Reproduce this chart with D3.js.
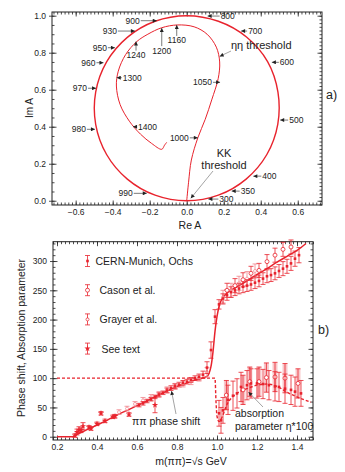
<!DOCTYPE html>
<html>
<head>
<meta charset="utf-8">
<script src="https://cdn.jsdelivr.net/npm/d3@7"></script>
<style>
body { margin: 0; background: #fff; }
text { font-family: "Liberation Sans", Arial, sans-serif; fill: #222; }
</style>
</head>
<body>
<div id="chart"></div>
<script>
// ---------- a) Argand diagram data ----------
var outerRe = [0, 0.171, 0.321, 0.433, 0.492, 0.493, 0.437, 0.323, 0.171, 0, -0.171, -0.321, -0.433, -0.492, -0.492, -0.433, -0.321, -0.171, 0];
var outerIm = [0, 0.030, 0.117, 0.25, 0.413, 0.587, 0.752, 0.885, 0.970, 1.0, 0.970, 0.883, 0.75, 0.587, 0.413, 0.25, 0.117, 0.030, 0];
var innerRe = [0, 0.01, 0.025, 0.06, 0.10, 0.135, 0.17, 0.178, 0.16, 0.11, 0.04, -0.05, -0.135, -0.21, -0.27, -0.33, -0.37, -0.38, -0.36, -0.31, -0.25, -0.19, -0.135, -0.12, -0.108];
var innerIm = [0, 0.10, 0.22, 0.34, 0.44, 0.545, 0.66, 0.75, 0.83, 0.90, 0.94, 0.95, 0.935, 0.90, 0.86, 0.79, 0.70, 0.62, 0.52, 0.43, 0.36, 0.31, 0.278, 0.30, 0.316];

var outerEnergy = [300, 350, 400, 500, 600, 700, 800, 900, 930, 950, 960, 970, 980, 990];
var outerTipRe = [0.117, 0.243, 0.36, 0.505, 0.46, 0.294, 0.113, -0.162, -0.28, -0.388, -0.45, -0.49, -0.496, -0.216];
var outerTipIm = [0.009, 0.052, 0.133, 0.436, 0.748, 0.917, 0.998, 0.973, 0.917, 0.827, 0.746, 0.608, 0.386, 0.04];
var innerEnergy = [1000, 1050, 1160, 1200, 1240, 1300, 1400];
var innerTipRe = [0.06, 0.18, -0.054, -0.135, -0.274, -0.378, -0.29];
var innerTipIm = [0.34, 0.64, 0.95, 0.933, 0.86, 0.665, 0.40];

var reTicks = [-0.6, -0.4, -0.2, 0.0, 0.2, 0.4, 0.6];
var imTicks = [0.0, 0.2, 0.4, 0.6, 0.8, 1.0];

// ---------- b) phase shift / absorption data ----------
var phaseMass = [0.20, 0.28, 0.30, 0.35, 0.40, 0.45, 0.50, 0.55, 0.60, 0.65, 0.70, 0.75, 0.80, 0.85, 0.90, 0.95, 0.96, 0.97, 0.98, 0.99, 1.00, 1.01, 1.02, 1.04, 1.07, 1.10, 1.15, 1.20, 1.25, 1.30, 1.35, 1.40, 1.445];
var phaseFit = [0, 0, 4, 12, 20, 28, 37, 45, 53, 61, 70, 78, 86, 92, 98, 103, 108, 120, 145, 180, 205, 222, 232, 242, 250, 256, 266, 277, 287, 298, 308, 318, 330];
var etaMass = [0.20, 0.99, 0.995, 1.00, 1.01, 1.02, 1.05, 1.10, 1.15, 1.20, 1.25, 1.30, 1.35, 1.40, 1.47];
var etaFit = [100, 100, 60, 35, 26, 30, 55, 74, 82, 88, 90, 86, 76, 68, 59];

var cmMass = [0.61, 0.63, 0.65, 0.67, 0.69, 0.71, 0.73, 0.75, 0.77, 0.79, 0.81, 0.83, 0.85, 0.87, 0.89, 0.91, 0.93, 0.95, 0.97, 0.99, 1.01, 1.03, 1.05, 1.07, 1.09, 1.11, 1.13, 1.15, 1.17, 1.19, 1.21, 1.23, 1.25, 1.27, 1.29, 1.31, 1.33, 1.35, 1.37, 1.39, 1.41];
var cmPhase = [54, 57, 61, 64, 68, 72, 75, 79, 83, 86, 89, 92, 94, 97, 100, 102, 106, 118, 148, 205, 226, 236, 242, 247, 250, 253, 256, 258, 260, 263, 266, 270, 274, 276, 279, 283, 287, 291, 296, 304, 310];
var cmErr = [3, 3, 3, 3, 3, 3, 3, 4, 4, 4, 4, 4, 4, 4, 4, 5, 6, 10, 14, 12, 8, 8, 9, 9, 9, 9, 10, 10, 10, 10, 10, 10, 11, 11, 11, 11, 12, 12, 12, 13, 13];

var casonMass = [1.05, 1.09, 1.13, 1.17, 1.21, 1.25, 1.29, 1.33, 1.37];
var casonPhase = [250, 258, 268, 279, 284, 299, 310, 320, 324];
var casonErr = [12, 12, 12, 12, 12, 12, 12, 12, 12];

var grayerMass = [0.51, 0.55, 0.59, 0.63, 0.67, 0.71, 0.75, 0.79, 0.83, 0.87, 0.91, 0.95, 1.03, 1.07, 1.11, 1.15, 1.19];
var grayerPhase = [42, 48, 56, 62, 67, 72, 80, 86, 90, 94, 100, 110, 238, 250, 262, 270, 283];
var grayerErr = [4, 4, 4, 5, 5, 5, 5, 5, 5, 5, 5, 8, 12, 12, 12, 12, 12];

var seeMass = [0.29, 0.30, 0.31, 0.32, 0.33, 0.36, 0.37, 0.40, 0.42, 0.44, 0.48, 0.49, 0.56, 0.69];
var seePhase = [2, 8, 12, 11, 18, 16, 14, 22, 40, 27, 34, 35, 38, 54];
var seeErr = [3, 5, 5, 4, 6, 3, 3, 3, 3, 3, 3, 3, 3, 13];

var absCmMass = [1.01, 1.02, 1.03, 1.055, 1.08, 1.10, 1.12, 1.15, 1.17, 1.20, 1.23, 1.26, 1.29, 1.31, 1.34, 1.37, 1.39, 1.42];
var absCmEta = [40, 28, 45, 63, 70, 74, 85, 88, 91, 91, 90, 88, 86, 85, 82, 80, 77, 74];
var absCmErr = [22, 22, 22, 25, 25, 25, 25, 25, 25, 25, 25, 25, 25, 25, 25, 25, 25, 22];
var absCasonMass = [1.047, 1.13, 1.164, 1.21, 1.247, 1.29, 1.34, 1.405];
var absCasonEta = [71, 80, 94, 94, 101, 102, 100, 91];
var absCasonErr = [25, 25, 25, 25, 25, 25, 25, 25];

var massTicks = [0.2, 0.4, 0.6, 0.8, 1.0, 1.2, 1.4];
var degTicks = [0, 50, 100, 150, 200, 250, 300];
var legendNames = ["CERN-Munich, Ochs", "Cason et al.", "Grayer et al.", "See text"];

var red = "#e8232d", pink = "#f0848c", ink = "#222";

var svg = d3.select("#chart")
    .append("svg")
    .attr("width", 345)
    .attr("height", 472);

svg.append("defs").append("marker")
    .attr("id", "arr")
    .attr("viewBox", "0 0 10 10")
    .attr("refX", 10).attr("refY", 5)
    .attr("markerWidth", 5).attr("markerHeight", 4)
    .attr("markerUnits", "userSpaceOnUse")
    .attr("orient", "auto")
    .append("path")
    .attr("d", "M0,0L10,5L0,10z")
    .attr("fill", ink);

// frame with inward ticks on four sides
function drawFrame(x, y, o) {
    var xl = x.range()[0], xr = x.range()[1], yb = y.range()[0], yt = y.range()[1];
    var g = svg.append("g");
    function style(sel) {
        sel.select(".domain").remove();
        sel.selectAll(".tick line").attr("stroke", ink).attr("stroke-width", 0.8);
        sel.selectAll("text").attr("font-size", "8.5px").attr("fill", ink);
    }
    g.append("g").attr("transform", `translate(0,${yb})`)
        .call(d3.axisBottom(x).tickValues(o.xMinor).tickFormat("").tickSize(-2.5)).call(style);
    g.append("g").attr("transform", `translate(0,${yb})`)
        .call(d3.axisBottom(x).tickValues(o.xMajor).tickFormat(o.xFmt).tickSize(-4.5).tickPadding(4)).call(style);
    g.append("g").attr("transform", `translate(0,${yt})`)
        .call(d3.axisTop(x).tickValues(o.xMinor).tickFormat("").tickSize(-2.5)).call(style);
    g.append("g").attr("transform", `translate(0,${yt})`)
        .call(d3.axisTop(x).tickValues(o.xMajor).tickFormat("").tickSize(-4.5)).call(style);
    g.append("g").attr("transform", `translate(${xl},0)`)
        .call(d3.axisLeft(y).tickValues(o.yMinor).tickFormat("").tickSize(-2.5)).call(style);
    var left = g.append("g").attr("transform", `translate(${xl},0)`)
        .call(d3.axisLeft(y).tickValues(o.yMajor).tickFormat(o.yFmt).tickSize(-4.5).tickPadding(6)).call(style);
    left.selectAll(".tick line").attr("x1", -3);
    g.append("g").attr("transform", `translate(${xr},0)`)
        .call(d3.axisRight(y).tickValues(o.yMinorR).tickFormat("").tickSize(-2.5)).call(style);
    g.append("g").attr("transform", `translate(${xr},0)`)
        .call(d3.axisRight(y).tickValues(o.yMajor).tickFormat("").tickSize(-4.5)).call(style);
    g.append("rect")
        .attr("x", xl).attr("y", yt)
        .attr("width", xr - xl).attr("height", yb - yt)
        .attr("fill", "none").attr("stroke", ink).attr("stroke-width", 1);
}

// ---------- panel a ----------
var xa = d3.scaleLinear().domain([-0.728, 0.731]).range([52, 322]);
var ya = d3.scaleLinear().domain([-0.023, 1.02]).range([205, 12]);

drawFrame(xa, ya, {
    xMajor: reTicks, xMinor: d3.range(-0.72, 0.73, 0.02),
    yMajor: imTicks, yMinor: d3.range(0, 1.01, 0.05), yMinorR: d3.range(-0.02, 1.01, 0.02),
    xFmt: d3.format(".1f"), yFmt: d3.format(".1f")
});

var lineA = d3.line().x(d => xa(d[0])).y(d => ya(d[1]));
svg.append("path")
    .datum(d3.zip(outerRe, outerIm).slice(0, -1))
    .attr("d", lineA.curve(d3.curveCatmullRomClosed))
    .attr("fill", "none").attr("stroke", red).attr("stroke-width", 1.4);
svg.append("path")
    .datum(d3.zip(innerRe, innerIm))
    .attr("d", lineA.curve(d3.curveCatmullRom))
    .attr("fill", "none").attr("stroke", red).attr("stroke-width", 1);

// energy labels: [dx, dy] from tip to arrow tail, text anchor
var outerLayout = [[10, 0, "start"], [8, 0, "start"], [8, 0, "start"], [8, 0, "start"], [7, 0, "start"], [6, 0, "start"], [12, 0, "start"],
    [-16, 0, "end"], [-17, 0, "end"], [-7, 0, "end"], [-7, 0, "end"], [-8, 0, "end"], [-8, 0, "end"], [-13, 0, "end"]];
var innerLayout = [[-8, 0, "end"], [-7, 0, "end"], [0, 11, "middle"], [0, 18, "middle"], [0, 9, "middle"], [5, 0, "start"], [4, 0, "start"]];

function energyLabels(energy, re, im, layout) {
    energy.forEach(function(e, i) {
        var tx = xa(re[i]), ty = ya(im[i]), L = layout[i];
        svg.append("line")
            .attr("x1", tx + L[0]).attr("y1", ty + L[1])
            .attr("x2", tx).attr("y2", ty)
            .attr("stroke", ink).attr("stroke-width", 0.6)
            .attr("marker-end", "url(#arr)");
        var lx = tx + L[0] + (L[2] == "start" ? 1 : L[2] == "end" ? -1 : 0);
        var ly = L[2] == "middle" ? ty + L[1] + 7.5 : ty + 3;
        svg.append("text")
            .attr("x", lx).attr("y", ly)
            .attr("text-anchor", L[2])
            .attr("font-size", "8.5px")
            .text(e);
    });
}
energyLabels(outerEnergy, outerTipRe, outerTipIm, outerLayout);
energyLabels(innerEnergy, innerTipRe, innerTipIm, innerLayout);

// thresholds
svg.append("line")
    .attr("x1", 231).attr("y1", 51).attr("x2", xa(0.178)).attr("y2", ya(0.78))
    .attr("stroke", "#666").attr("stroke-width", 0.6).attr("marker-end", "url(#arr)");
svg.append("text").attr("x", 231).attr("y", 49).attr("font-size", "11px").text("ηη threshold");
svg.append("line")
    .attr("x1", 213).attr("y1", 171).attr("x2", xa(0.022)).attr("y2", ya(0.013))
    .attr("stroke", "#666").attr("stroke-width", 0.6).attr("marker-end", "url(#arr)");
svg.append("text").attr("x", 224).attr("y", 156.5).attr("text-anchor", "middle").attr("font-size", "11px").text("KK");
svg.append("text").attr("x", 224).attr("y", 168.5).attr("text-anchor", "middle").attr("font-size", "11px").text("threshold");

svg.append("text").attr("x", 190).attr("y", 229).attr("text-anchor", "middle").attr("font-size", "10.5px").text("Re A");
svg.append("text").attr("transform", "translate(33,108) rotate(-90)").attr("text-anchor", "middle").attr("font-size", "10px").text("Im A");
svg.append("text").attr("x", 326).attr("y", 99).attr("font-size", "12.5px").text("a)");

// ---------- panel b ----------
var xb = d3.scaleLinear().domain([0.18, 1.48]).range([53, 313]);
var yb = d3.scaleLinear().domain([-5.6, 333]).range([440, 241.7]);

drawFrame(xb, yb, {
    xMajor: massTicks, xMinor: d3.range(0.18, 1.481, 0.02),
    yMajor: degTicks, yMinor: d3.range(0, 331, 10), yMinorR: d3.range(0, 331, 10),
    xFmt: d3.format(".1f"), yFmt: d3.format("d")
});

var plotB = svg.append("g");

// pink bands behind absorption points
plotB.selectAll(".band")
    .data(d3.zip(absCasonMass, absCasonEta, absCasonErr))
    .enter().append("rect")
    .attr("x", d => xb(d[0]) - 2.5).attr("width", 5)
    .attr("y", d => yb(d[1] + d[2])).attr("height", d => yb(d[1] - d[2]) - yb(d[1] + d[2]))
    .attr("fill", pink).attr("opacity", 0.45);

// fitted curves
var lineB = d3.line().x(d => xb(d[0])).y(d => yb(d[1]));
plotB.append("path")
    .datum(d3.zip(etaMass, etaFit))
    .attr("d", lineB.curve(d3.curveMonotoneX))
    .attr("fill", "none").attr("stroke", red).attr("stroke-width", 1.4).attr("stroke-dasharray", "3,2");
plotB.append("path")
    .datum(d3.zip(phaseMass, phaseFit))
    .attr("d", lineB.curve(d3.curveMonotoneX))
    .attr("fill", "none").attr("stroke", red).attr("stroke-width", 1.5);

function errorBars(mass, val, err, color, kind) {
    var g = plotB.append("g");
    var pts = d3.zip(mass, val, err);
    var sel = g.selectAll("g").data(pts).enter().append("g");
    sel.append("line")
        .attr("x1", d => xb(d[0])).attr("x2", d => xb(d[0]))
        .attr("y1", d => yb(d[1] - d[2])).attr("y2", d => yb(d[1] + d[2]))
        .attr("stroke", color).attr("stroke-width", 0.8);
    [-1, 1].forEach(function(s) {
        sel.append("line")
            .attr("x1", d => xb(d[0]) - 2.5).attr("x2", d => xb(d[0]) + 2.5)
            .attr("y1", d => yb(d[1] + s * d[2])).attr("y2", d => yb(d[1] + s * d[2]))
            .attr("stroke", color).attr("stroke-width", 0.8);
    });
    marker(sel, d => xb(d[0]), d => yb(d[1]), color, kind);
}

function marker(sel, fx, fy, color, kind) {
    if (kind == "square") {
        sel.append("rect").attr("x", d => fx(d) - 1.3).attr("y", d => fy(d) - 1.3)
            .attr("width", 2.6).attr("height", 2.6).attr("fill", color);
    } else if (kind == "circle") {
        sel.append("circle").attr("cx", fx).attr("cy", fy).attr("r", 2)
            .attr("fill", "#fff").attr("stroke", color).attr("stroke-width", 0.8);
    } else if (kind == "small") {
        sel.append("circle").attr("cx", fx).attr("cy", fy).attr("r", 1.5)
            .attr("fill", "#fff").attr("stroke", color).attr("stroke-width", 0.7);
    } else {
        sel.append("path").attr("transform", d => `translate(${fx(d)},${fy(d)})`)
            .attr("d", d3.symbol(d3.symbolStar, 12)).attr("fill", color);
    }
}

errorBars(grayerMass, grayerPhase, grayerErr, pink, "small");
errorBars(seeMass, seePhase, seeErr, red, "star");
errorBars(cmMass, cmPhase, cmErr, red, "square");
errorBars(casonMass, casonPhase, casonErr, red, "circle");
errorBars(absCasonMass, absCasonEta, absCasonErr, red, "circle");
errorBars(absCmMass, absCmEta, absCmErr, red, "square");

// legend
var kinds = ["square", "circle", "small", "star"];
var legend = svg.append("g").selectAll("g")
    .data(legendNames).enter().append("g")
    .attr("transform", (d, i) => `translate(87.5,${261 + i * 29.2})`);
legend.append("line").attr("x1", 0).attr("x2", 0).attr("y1", -5.5).attr("y2", 5.5)
    .attr("stroke", red).attr("stroke-width", 0.8);
legend.append("line").attr("x1", -2.5).attr("x2", 2.5).attr("y1", -5.5).attr("y2", -5.5).attr("stroke", red).attr("stroke-width", 0.8);
legend.append("line").attr("x1", -2.5).attr("x2", 2.5).attr("y1", 5.5).attr("y2", 5.5).attr("stroke", red).attr("stroke-width", 0.8);
legend.each(function(d, i) {
    marker(d3.select(this), () => 0, () => 0, red, kinds[i]);
});
legend.append("text")
    .attr("x", (d, i) => i == 0 ? 8 : i == 3 ? 14 : 12)
    .attr("y", 4)
    .attr("font-size", "10.5px")
    .text(d => d);

// annotations
svg.append("line").attr("x1", 176).attr("y1", 414).attr("x2", 171.5).attr("y2", 391)
    .attr("stroke", "#666").attr("stroke-width", 0.6).attr("marker-end", "url(#arr)");
svg.append("text").attr("x", 132).attr("y", 425).attr("font-size", "10.5px").text("ππ phase shift");
svg.append("line").attr("x1", 263).attr("y1", 407).attr("x2", 248.5).attr("y2", 392)
    .attr("stroke", "#666").attr("stroke-width", 0.6).attr("marker-end", "url(#arr)");
svg.append("text").attr("x", 235).attr("y", 417).attr("font-size", "10.5px").text("absorption");
svg.append("text").attr("x", 235).attr("y", 430).attr("font-size", "10.5px").text("parameter η*100");

svg.append("text").attr("x", 191).attr("y", 465).attr("text-anchor", "middle").attr("font-size", "10.5px").text("m(ππ)=√s   GeV");
svg.append("text").attr("transform", "translate(25,338) rotate(-90)").attr("text-anchor", "middle").attr("font-size", "10.5px").text("Phase shift, Absorption parameter");
svg.append("text").attr("x", 318).attr("y", 334).attr("font-size", "12.5px").text("b)");
</script>
</body>
</html>
